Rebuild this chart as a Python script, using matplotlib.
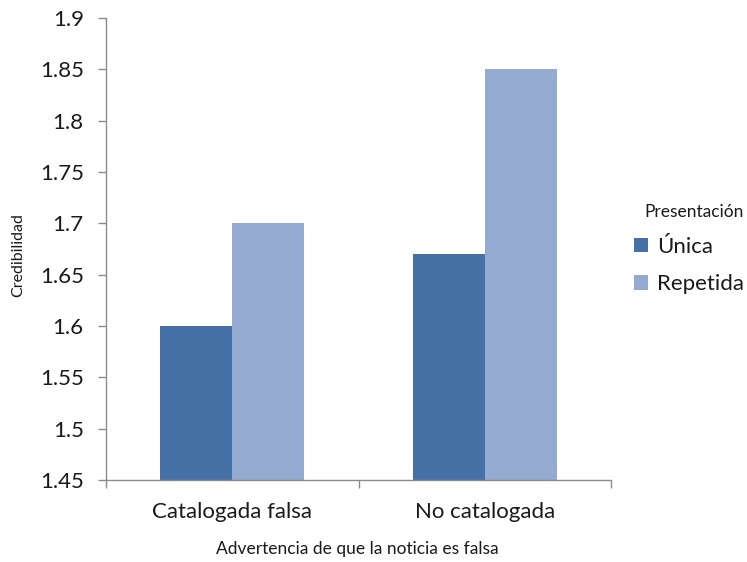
import matplotlib
matplotlib.use("Agg")
import matplotlib.pyplot as plt
import numpy as np

categories = ["Catalogada falsa", "No catalogada"]
series_names = ["Única", "Repetida"]
unica = [1.60, 1.67]
repetida = [1.70, 1.85]
y_ticks = [1.45, 1.5, 1.55, 1.6, 1.65, 1.7, 1.75, 1.8, 1.85, 1.9]
y_tick_labels = ["1.45", "1.5", "1.55", "1.6", "1.65", "1.7", "1.75", "1.8", "1.85", "1.9"]

colors = ["#4571A6", "#94AAD1"]
font = ["Lato", "DejaVu Sans"]
plt.rcParams["font.family"] = font
text_color = "#1a1a1a"
axis_color = "#8c8c8c"

W, H = 747, 562
fig = plt.figure(figsize=(W / 100, H / 100), dpi=100)
ax = fig.add_axes([106 / W, 1 - 480 / H, (611 - 106) / W, (480 - 18) / H])

x = np.arange(len(categories))
bw = 1 / 3.5
ax.bar(x - bw / 2, unica, width=bw, color=colors[0], label=series_names[0], bottom=0)
ax.bar(x + bw / 2, repetida, width=bw, color=colors[1], label=series_names[1], bottom=0)

ax.set_ylim(1.45, 1.9)
ax.set_xlim(-0.5, len(categories) - 0.5)
ax.set_yticks(y_ticks)
ax.set_yticklabels(y_tick_labels, fontsize=16, color=text_color)

ax.set_xticks(x)
ax.set_xticklabels(categories, fontsize=16, color=text_color)
ax.tick_params(axis="x", length=0, pad=16)
ax.set_xticks(np.arange(-0.5, len(categories)), minor=True)
ax.tick_params(axis="x", which="minor", length=6, color=axis_color, width=1)
ax.tick_params(axis="y", length=6, color=axis_color, width=1, pad=10)

for side in ["top", "right"]:
    ax.spines[side].set_visible(False)
for side in ["left", "bottom"]:
    ax.spines[side].set_color(axis_color)
    ax.spines[side].set_linewidth(1)

fig.text(18 / W, 1 - 255 / H, "Credibilidad", rotation=90, fontsize=11.5,
         ha="center", va="center", color=text_color)
fig.text(357 / W, 1 - 549 / H, "Advertencia de que la noticia es falsa",
         fontsize=12.5, ha="center", va="center", color=text_color)

leg = fig.legend(loc="center left", bbox_to_anchor=(634 / W, 1 - 249 / H),
                 frameon=False, title="Presentación", fontsize=16,
                 title_fontsize=12.5, handlelength=0.62, handleheight=0.62,
                 handletextpad=0.4, labelspacing=0.78, borderaxespad=0,
                 borderpad=0)
leg._legend_box.align = "right"
for t in leg.get_texts():
    t.set_color(text_color)
leg.get_title().set_color(text_color)

fig.savefig("out.png", dpi=100, facecolor="white")
